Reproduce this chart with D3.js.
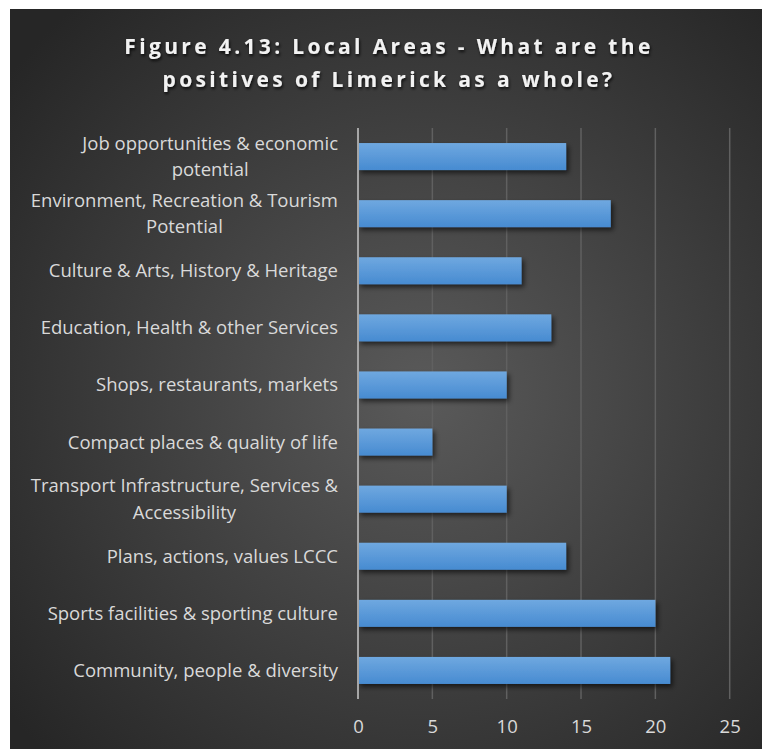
<!DOCTYPE html>
<html>
<head>
<meta charset="utf-8">
<script src="https://cdn.jsdelivr.net/npm/d3@7"></script>
<style>
  html, body { margin: 0; padding: 0; background: #ffffff; }
  svg { display: block; }
</style>
</head>
<body>
<div id="chart"></div>
<script>
// Survey responses: positives of Limerick as a whole
const categories = [
  ["Job opportunities & economic", "potential"],
  ["Environment, Recreation & Tourism", "Potential"],
  ["Culture & Arts, History & Heritage"],
  ["Education, Health & other Services"],
  ["Shops, restaurants, markets"],
  ["Compact places & quality of life"],
  ["Transport Infrastructure, Services &", "Accessibility"],
  ["Plans, actions, values LCCC"],
  ["Sports facilities & sporting culture"],
  ["Community, people & diversity"]
];
const values = [14, 17, 11, 13, 10, 5, 10, 14, 20, 21];
const tickValues = [0, 5, 10, 15, 20, 25];
const titleLines = ["Figure 4.13: Local Areas - What are the", "positives of Limerick as a whole?"];

const W = 762, H = 749;
const svg = d3.select("#chart").append("svg").attr("width", W).attr("height", H);
const defs = svg.append("defs");

// Panel background: soft radial light in a dark field
const bg = defs.append("radialGradient").attr("id", "bgGrad")
  .attr("cx", "55%").attr("cy", "52%").attr("r", "70%");
bg.append("stop").attr("offset", "0%").attr("stop-color", "#5a5a5a");
bg.append("stop").attr("offset", "100%").attr("stop-color", "#262626");

const barGrad = defs.append("linearGradient").attr("id", "barGrad")
  .attr("x1", 0).attr("y1", 0).attr("x2", 0).attr("y2", 1);
barGrad.append("stop").attr("offset", "0%").attr("stop-color", "#6fa8e0");
barGrad.append("stop").attr("offset", "100%").attr("stop-color", "#478bd1");

const shadow = defs.append("filter").attr("id", "barShadow")
  .attr("x", "-10%").attr("y", "-30%").attr("width", "130%").attr("height", "180%");
shadow.append("feDropShadow").attr("dx", 2.5).attr("dy", 3).attr("stdDeviation", 2.5)
  .attr("flood-color", "#000").attr("flood-opacity", 0.6);

const tshadow = defs.append("filter").attr("id", "textShadow")
  .attr("x", "-10%").attr("y", "-30%").attr("width", "120%").attr("height", "170%");
tshadow.append("feDropShadow").attr("dx", 1).attr("dy", 2).attr("stdDeviation", 1.5)
  .attr("flood-color", "#000").attr("flood-opacity", 0.8);

svg.append("rect").attr("x", 10).attr("y", 9).attr("width", W - 10).attr("height", H - 9)
  .attr("fill", "url(#bgGrad)");

const font = "'Open Sans', 'Noto Sans', sans-serif";

// Title
const title = svg.append("text")
  .attr("x", 389).attr("text-anchor", "middle")
  .attr("font-family", font)
  .attr("font-weight", "bold").attr("font-size", 21)
  .attr("letter-spacing", 3.35)
  .attr("fill", "#f2f2f2").attr("filter", "url(#textShadow)");
titleLines.forEach((t, i) => {
  title.append("tspan").attr("x", 389).attr("y", 54 + i * 33).text(t);
});

// Scales
const x = d3.scaleLinear().domain([0, 25]).range([358, 729.7]);
const y = d3.scaleBand().domain(d3.range(categories.length))
  .range([128, 699]).paddingInner(0.527).paddingOuter(0.2635);

// Vertical gridlines
svg.append("g").selectAll("line").data(tickValues.filter(d => d > 0)).join("line")
  .attr("x1", d => x(d)).attr("x2", d => x(d))
  .attr("y1", 128).attr("y2", 699)
  .attr("stroke", "#606060").attr("stroke-width", 1.5);

// Bars
svg.append("g").selectAll("rect").data(values).join("rect")
  .attr("x", x(0))
  .attr("y", (d, i) => y(i))
  .attr("width", d => x(d) - x(0))
  .attr("height", y.bandwidth())
  .attr("fill", "url(#barGrad)")
  .attr("filter", "url(#barShadow)");

// Category axis line
svg.append("line").attr("x1", x(0)).attr("x2", x(0)).attr("y1", 128).attr("y2", 699)
  .attr("stroke", "#a6a6a6").attr("stroke-width", 2);

// Category labels (multi-line labels are centred as a block, right edge on the axis gap)
const labelSize = 18.5;
const labelRight = 338;
const lg = svg.append("g").attr("font-family", font).attr("font-size", labelSize).attr("fill", "#d9d9d9");
categories.forEach((lines, i) => {
  const cy = y(i) + y.bandwidth() / 2;
  const t = lg.append("text").attr("text-anchor", "middle");
  const spans = lines.map((l, j) =>
    t.append("tspan").attr("y", cy + (j - (lines.length - 1) / 2) * 26.5).attr("dy", "0.35em").text(l));
  const widths = spans.map(s => s.node().getComputedTextLength());
  const maxW = d3.max(widths);
  spans.forEach(s => s.attr("x", labelRight - maxW / 2));
});

// Value axis tick labels
const xAxis = d3.axisBottom(x).tickValues(tickValues).tickSize(0).tickPadding(0);
const ax = svg.append("g").attr("transform", "translate(0,727)").call(xAxis);
ax.select(".domain").remove();
ax.selectAll("text").attr("font-family", font).attr("font-size", labelSize)
  .attr("fill", "#d9d9d9").attr("dy", "0.35em");
</script>
</body>
</html>
